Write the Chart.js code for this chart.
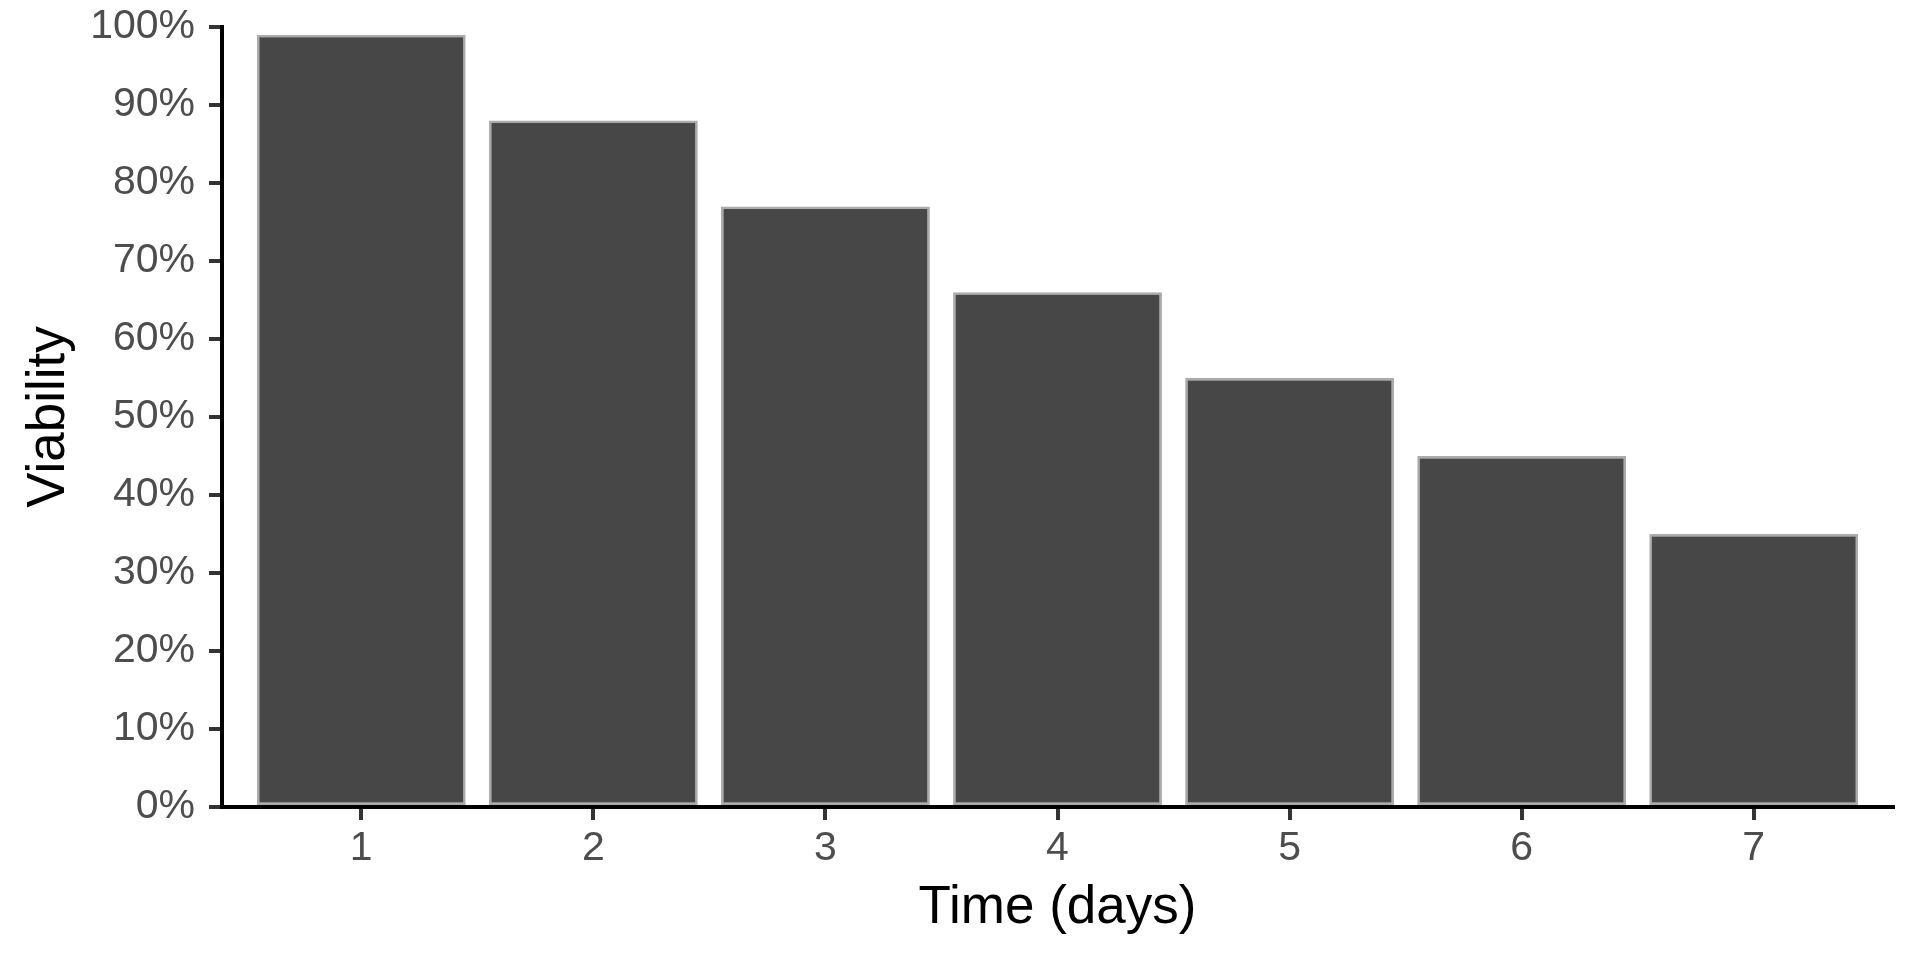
<!DOCTYPE html>
<html>
<head>
<meta charset="utf-8">
<script src="https://cdn.jsdelivr.net/npm/chart.js@4"></script>
<style>
  html, body { margin: 0; padding: 0; background: #fff; }
  #wrap { width: 1920px; height: 960px; position: relative; }
</style>
</head>
<body>
<div id="wrap"><canvas id="barChart"></canvas></div>
<script>
// data
const days = [1, 2, 3, 4, 5, 6, 7];
const viability = [99, 88, 77, 66, 55, 45, 35];
const yTicks = [0, 10, 20, 30, 40, 50, 60, 70, 80, 90, 100];

const font = "'Liberation Sans', Arial, sans-serif";

window.drawBarChart = function () {
    const ctx = document.getElementById("barChart").getContext("2d");
    new Chart(ctx, {
        type: "bar",
        data: {
            datasets: [{
                data: days.map((d, i) => ({ x: d, y: viability[i] })),
                backgroundColor: "#474747",
                borderColor: "#ababab",
                borderWidth: 2.5,
                borderSkipped: false,
                barPercentage: 0.9,
                categoryPercentage: 1.0,
            }]
        },
        options: {
            responsive: true,
            maintainAspectRatio: false,
            animation: false,
            layout: { padding: { top: 27, right: 27, left: 0, bottom: 0 } },
            plugins: { legend: { display: false }, tooltip: { enabled: false } },
            scales: {
                x: {
                    type: "linear",
                    min: 0.4,
                    max: 7.6,
                    offset: false,
                    afterBuildTicks: (s) => { s.ticks = days.map(d => ({ value: d })); },
                    afterFit: (s) => { s.height = 153; s.paddingLeft = 0; s.paddingRight = 0; },
                    border: { display: true, color: "#000", width: 4 },
                    grid: { offset: false, drawOnChartArea: false, drawTicks: true, tickLength: 13, color: "#333", lineWidth: 4 },
                    ticks: { color: "#4d4d4d", padding: 4, font: { family: font, size: 41 } },
                    title: {
                        display: true, text: "Time (days)", color: "#000",
                        font: { family: font, size: 53 }, padding: { top: 0, bottom: 20 }
                    }
                },
                y: {
                    min: 0,
                    max: 100,
                    afterBuildTicks: (s) => { s.ticks = yTicks.map(v => ({ value: v })); },
                    afterFit: (s) => { s.width = 222; s.paddingTop = 0; s.paddingBottom = 0; },
                    border: { display: true, color: "#000", width: 4 },
                    grid: { drawOnChartArea: false, drawTicks: true, tickLength: 13, color: "#333", lineWidth: 4 },
                    ticks: {
                        color: "#4d4d4d", padding: 14, font: { family: font, size: 41 },
                        callback: (v) => v + "%"
                    },
                    title: {
                        display: true, text: "Viability", color: "#000",
                        font: { family: font, size: 53 }, padding: { top: 18, bottom: 0 }
                    }
                }
            }
        }
    });
};

window.drawBarChart();
</script>
</body>
</html>
